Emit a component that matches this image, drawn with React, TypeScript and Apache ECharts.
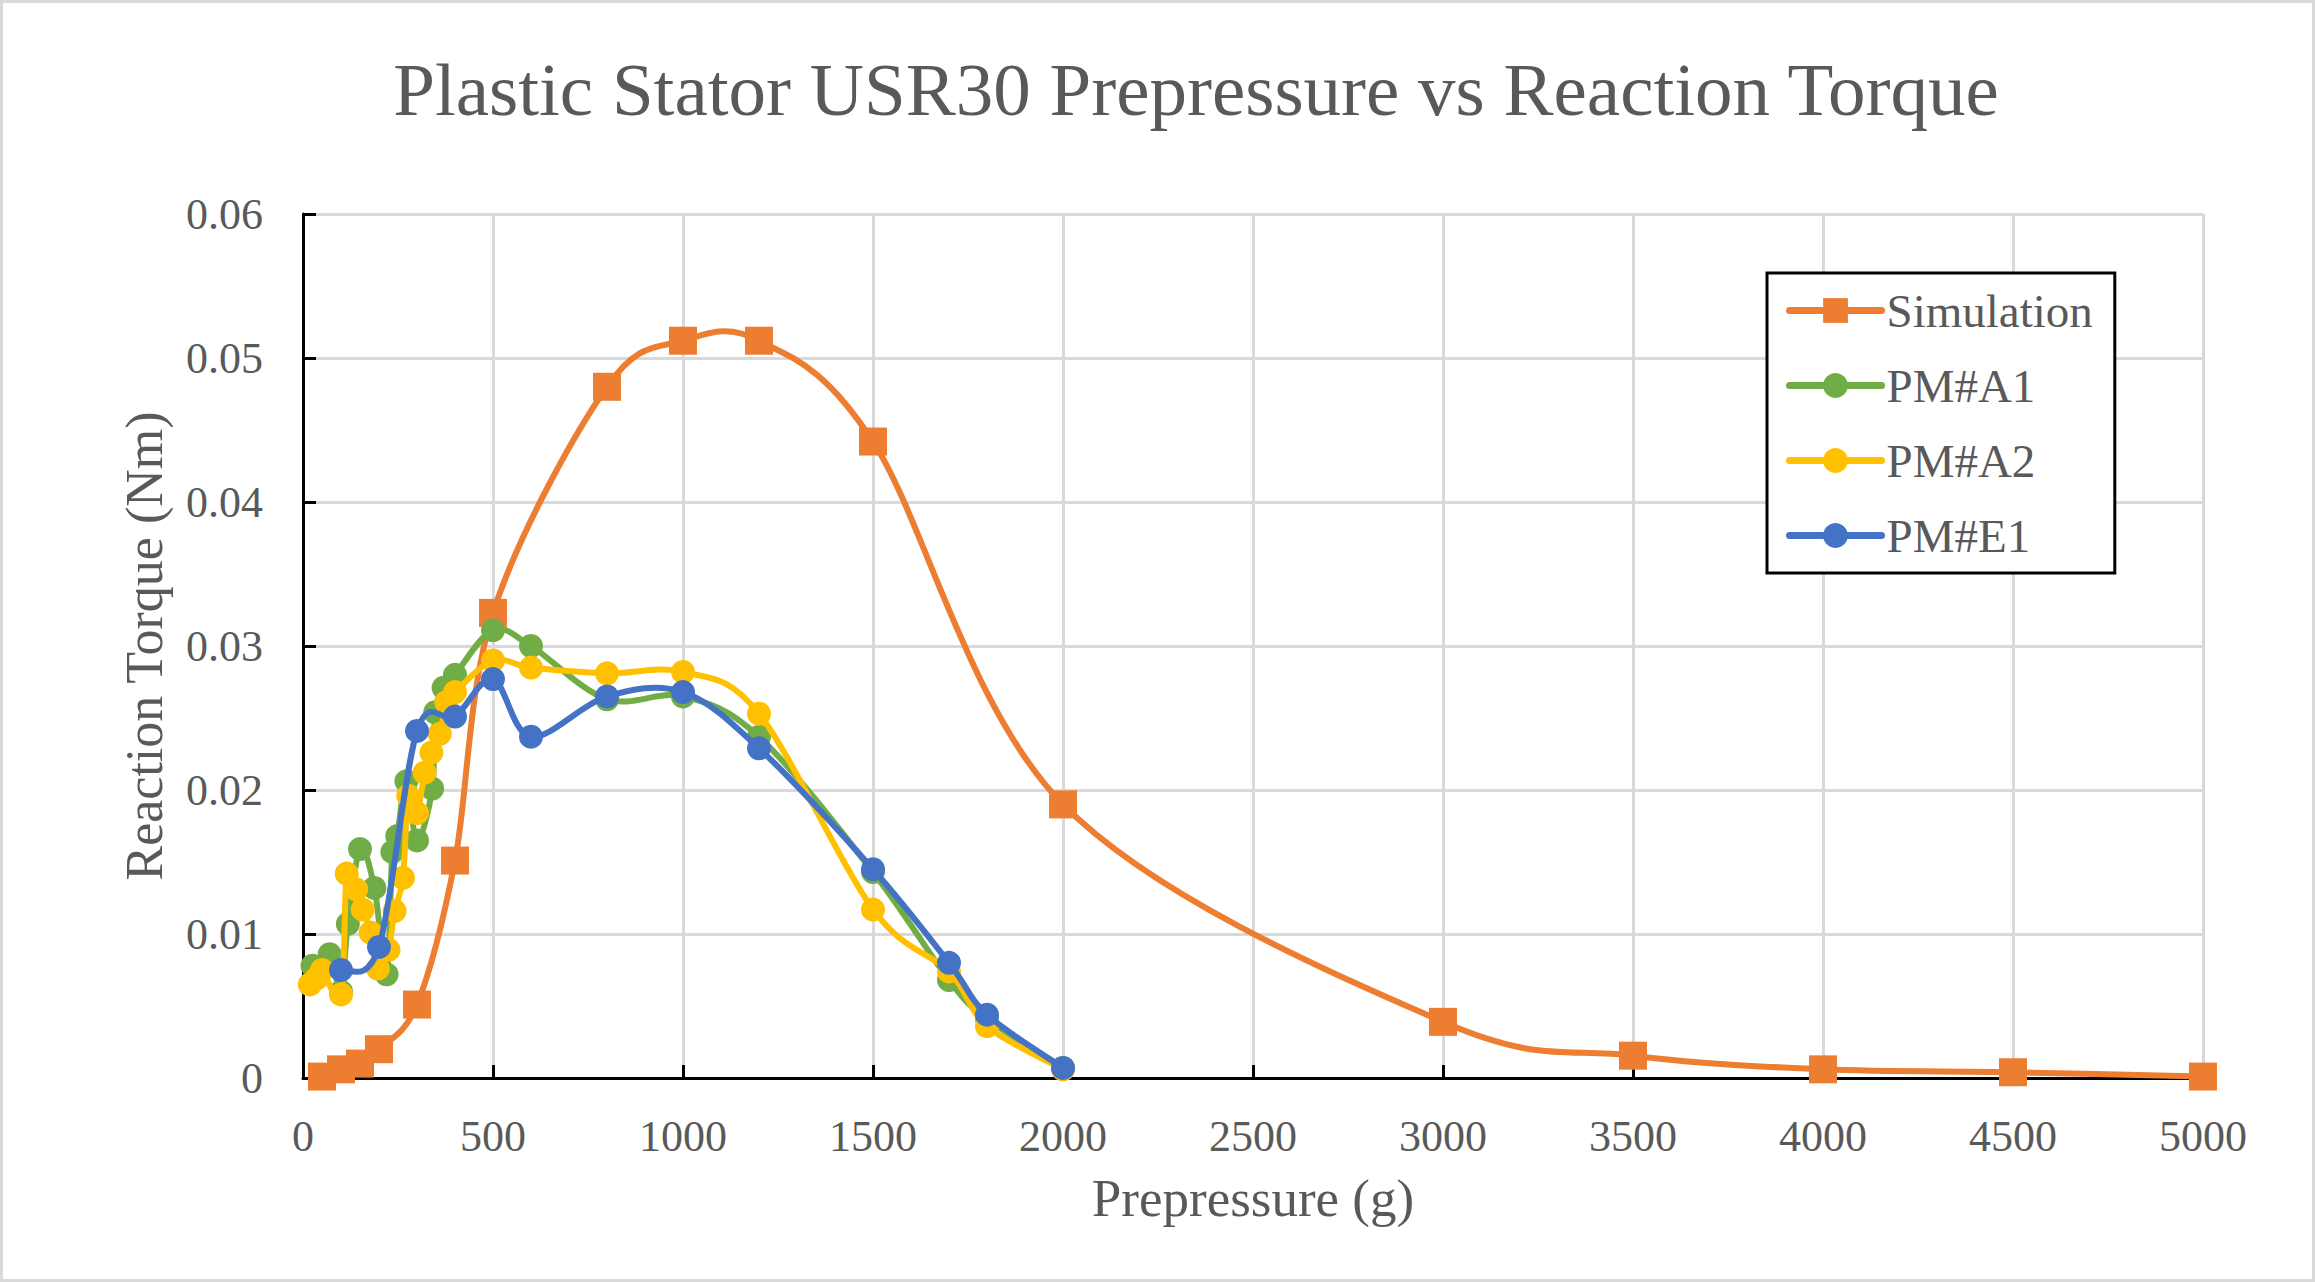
import React, { useEffect, useRef } from 'react';
import * as echarts from 'echarts';

const FONT = '"Liberation Serif", "Times New Roman", serif';
const TEXT = '#595959';

const titleText = 'Plastic Stator USR30 Prepressure vs Reaction Torque';
const xAxisName = 'Prepressure (g)';
const yAxisName = 'Reaction Torque (Nm)';
const seriesNames = ['Simulation', 'PM#A1', 'PM#A2', 'PM#E1'];
const seriesColors = ['#ED7D31', '#70AD47', '#FFC000', '#4472C4'];

const xMin = 0;
const xMax = 5000;
const xStep = 500;
const yMin = 0;
const yMax = 0.06;
const yStep = 0.01;

const simX = [50, 100, 150, 200, 300, 400, 500, 800, 1000, 1200, 1500, 2000, 3000, 3500, 4000, 4500, 5000];
const simY = [0.0001, 0.0006, 0.001, 0.002, 0.0051, 0.0151, 0.0323, 0.048, 0.0512, 0.0512, 0.0442, 0.019, 0.0039, 0.00155, 0.0006, 0.0004, 0.0001];

const a1X = [25, 70, 100, 118, 150, 188, 220, 235, 248, 272, 300, 340, 348, 370, 400, 500, 600, 800, 1000, 1200, 1500, 1700, 1800, 2000];
const a1Y = [0.0078, 0.0086, 0.006, 0.0107, 0.0159, 0.0132, 0.0072, 0.0157, 0.0168, 0.0206, 0.0165, 0.0201, 0.0254, 0.0271, 0.028, 0.0311, 0.03, 0.0263, 0.0265, 0.0237, 0.0143, 0.0068, 0.0041, 0.0007];

const a2X = [18, 35, 50, 100, 115, 140, 157, 178, 197, 225, 241, 263, 277, 300, 320, 338, 360, 377, 400, 500, 600, 800, 1000, 1200, 1500, 1700, 1800, 2000];
const a2Y = [0.0065, 0.0069, 0.0075, 0.0058, 0.0142, 0.0131, 0.0117, 0.0101, 0.0076, 0.0089, 0.0116, 0.0139, 0.0196, 0.0184, 0.0212, 0.0226, 0.0239, 0.0261, 0.0268, 0.029, 0.0285, 0.0281, 0.0282, 0.0253, 0.0117, 0.0074, 0.0036, 0.0006];

const e1X = [100, 200, 300, 400, 500, 600, 800, 1000, 1200, 1500, 1700, 1800, 2000];
const e1Y = [0.0075, 0.0091, 0.0241, 0.0251, 0.0277, 0.0237, 0.0265, 0.0268, 0.0229, 0.0145, 0.008, 0.0044, 0.0007];

const seriesX = [simX, a1X, a2X, e1X];
const seriesY = [simY, a1Y, a2Y, e1Y];

// Excel-like smoothed line: Catmull-Rom spline converted to cubic Bezier (screen space)
function smoothPath(pts: number[][]): string {
  if (pts.length === 0) return '';
  let d = `M${pts[0][0]},${pts[0][1]}`;
  for (let i = 0; i < pts.length - 1; i++) {
    const p0 = pts[i - 1] || pts[i];
    const p1 = pts[i];
    const p2 = pts[i + 1];
    const p3 = pts[i + 2] || p2;
    const c1x = p1[0] + (p2[0] - p0[0]) / 6;
    const c1y = p1[1] + (p2[1] - p0[1]) / 6;
    const c2x = p2[0] - (p3[0] - p1[0]) / 6;
    const c2y = p2[1] - (p3[1] - p1[1]) / 6;
    d += ` C${c1x},${c1y} ${c2x},${c2y} ${p2[0]},${p2[1]}`;
  }
  return d;
}

export default function App() {
  const ref = useRef<HTMLDivElement>(null);

  useEffect(() => {
    document.body.style.margin = '0';
    if (!ref.current) return;
    const chart = echarts.init(ref.current, null, { renderer: 'svg' });

    const series: any[] = [];
    seriesNames.forEach((name, i) => {
      const data = seriesX[i].map((x, j) => [x, seriesY[i][j]]);
      series.push({
        name: name + ' curve',
        type: 'custom',
        coordinateSystem: 'cartesian2d',
        data,
        encode: { x: 0, y: 1 },
        clip: false,
        silent: true,
        z: 2 + i * 2,
        renderItem: (params: any, api: any) => {
          if (params.dataIndexInside !== 0) return null;
          const pts = data.map((p) => api.coord(p));
          return {
            type: 'path',
            shape: { pathData: smoothPath(pts) },
            style: {
              fill: 'none',
              stroke: seriesColors[i],
              lineWidth: 6,
              lineCap: 'round',
              lineJoin: 'round',
            },
          };
        },
      });
      series.push({
        name,
        type: 'line',
        data,
        symbol: i === 0 ? 'rect' : 'circle',
        symbolSize: i === 0 ? 28 : 24,
        showAllSymbol: true,
        itemStyle: { color: seriesColors[i] },
        lineStyle: { color: seriesColors[i], width: 6, opacity: 0 },
        z: 3 + i * 2,
        clip: false,
      });
    });

    chart.setOption({
      animation: false,
      backgroundColor: '#ffffff',
      title: {
        text: titleText,
        left: 1191,
        top: 47,
        textAlign: 'center',
        textStyle: { fontFamily: FONT, fontSize: 75, fontWeight: 'normal', color: TEXT },
      },
      legend: {
        orient: 'vertical',
        left: 1767,
        top: 273,
        padding: [14, 22, 14, 19],
        itemGap: 28,
        itemWidth: 92,
        itemHeight: 31,
        borderColor: '#000000',
        borderWidth: 3,
        backgroundColor: '#ffffff',
        textStyle: { fontFamily: FONT, fontSize: 47, color: TEXT, lineHeight: 46 },
        data: seriesNames.map((n, i) => ({
          name: n,
          lineStyle: { color: seriesColors[i], width: 7, opacity: 1, cap: 'round' },
        })),
      },
      grid: { left: 303, top: 214, right: 112, bottom: 204, containLabel: false },
      xAxis: {
        type: 'value',
        min: xMin,
        max: xMax,
        interval: xStep,
        name: xAxisName,
        nameLocation: 'middle',
        nameGap: 93,
        nameTextStyle: { fontFamily: FONT, fontSize: 53, color: TEXT },
        axisLine: { show: true, onZero: false, lineStyle: { color: '#000000', width: 3 } },
        axisTick: { show: true, inside: true, length: 13, lineStyle: { color: '#000000', width: 3 } },
        axisLabel: {
          fontFamily: FONT,
          fontSize: 44,
          color: TEXT,
          margin: 36,
          formatter: (v: number) => String(v),
        },
        splitLine: { show: true, lineStyle: { color: '#D9D9D9', width: 3 } },
      },
      yAxis: {
        type: 'value',
        min: yMin,
        max: yMax,
        interval: yStep,
        name: yAxisName,
        nameLocation: 'middle',
        nameGap: 133,
        nameTextStyle: { fontFamily: FONT, fontSize: 52, color: TEXT },
        axisLine: { show: true, lineStyle: { color: '#000000', width: 3 } },
        axisTick: { show: true, inside: true, length: 13, lineStyle: { color: '#000000', width: 3 } },
        axisLabel: {
          fontFamily: FONT,
          fontSize: 44,
          color: TEXT,
          margin: 40,
          formatter: (v: number) => (v === 0 ? '0' : String(Number(v.toFixed(2)))),
        },
        splitLine: { show: true, lineStyle: { color: '#D9D9D9', width: 3 } },
      },
      graphic: [
        {
          type: 'rect',
          shape: { x: 1.5, y: 1.5, width: 2312, height: 1279 },
          style: { fill: 'none', stroke: '#D9D9D9', lineWidth: 3 },
          silent: true,
          z: 100,
        },
      ],
      series,
    });

    return () => {
      chart.dispose();
    };
  }, []);

  return <div ref={ref} style={{ width: 2315, height: 1282 }} />;
}
